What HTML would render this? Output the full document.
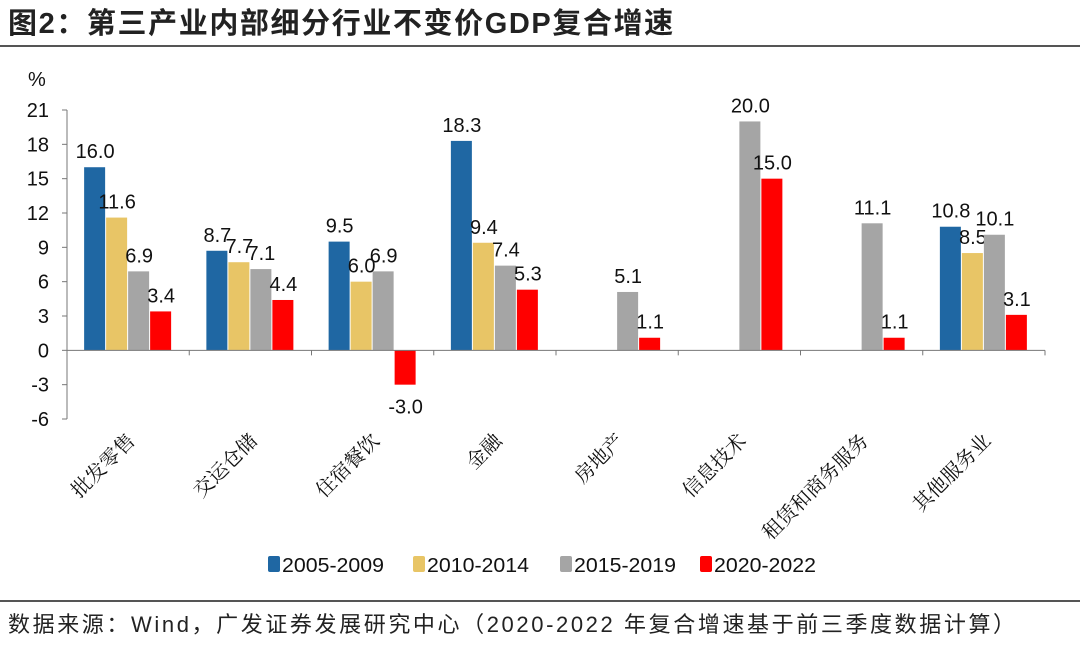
<!DOCTYPE html>
<html><head><meta charset="utf-8"><style>
body{margin:0;background:#fff;width:1080px;height:640px;overflow:hidden;font-family:"Liberation Sans","Noto Sans CJK SC",sans-serif}
</style></head><body>
<svg width="1080" height="640" id="svg" xmlns="http://www.w3.org/2000/svg">
<text x="8" y="33" font-size="29" letter-spacing="1.6" font-weight="bold" fill="#222" font-family="'Liberation Sans','Noto Sans CJK SC',sans-serif">图2：第三产业内部细分行业不变价GDP复合增速</text>
<line x1="0" y1="46" x2="1080" y2="46" stroke="#555" stroke-width="2"/>
<text x="28" y="86" font-size="20" fill="#111">%</text>
<g id="plot"></g>
<line x1="0" y1="601" x2="1080" y2="601" stroke="#555" stroke-width="2"/>
<text x="8" y="632" font-size="22" letter-spacing="2.6" fill="#222" font-family="'Liberation Sans','Noto Sans CJK SC',sans-serif">数据来源：Wind，广发证券发展研究中心（2020-2022 年复合增速基于前三季度数据计算）</text>
</svg>
<script>
const categories=["批发零售","交运仓储","住宿餐饮","金融","房地产","信息技术","租赁和商务服务","其他服务业"];
const seriesNames=["2005-2009","2010-2014","2015-2019","2020-2022"];
const s2005=[16.0,8.7,9.5,18.3,null,null,null,10.8];
const s2010=[11.6,7.7,6.0,9.4,null,null,null,8.5];
const s2015=[6.9,7.1,6.9,7.4,5.1,20.0,11.1,10.1];
const s2020=[3.4,4.4,-3.0,5.3,1.1,15.0,1.1,3.1];
const yTicks=[21,18,15,12,9,6,3,0,-3,-6];
const colors=["#1f67a3","#e8c566","#a5a5a5","#ff0000"];
const series=[s2005,s2010,s2015,s2020];
const NS="http://www.w3.org/2000/svg";
const g=document.getElementById('plot');
const x0=67,x1=1045,yTop=110,yBot=419,vMax=21,vMin=-6;
const y=v=>yTop+(vMax-v)/(vMax-vMin)*(yBot-yTop);
const cw=(x1-x0)/categories.length;
const bw=22;
function mk(t,a){const e=document.createElementNS(NS,t);for(const k in a)e.setAttribute(k,a[k]);g.appendChild(e);return e;}
let ax=mk('line',{x1:x0,y1:y(vMax),x2:x0,y2:y(vMin),stroke:'#777','stroke-width':1});


yTicks.forEach(t=>{
 const tk=mk('line',{x1:x0-5,y1:y(t),x2:x0,y2:y(t),stroke:'#777'});
 
 
 const tl=mk('text',{x:x0-18,y:y(t)+7,'font-size':20,'text-anchor':'end',fill:'#111'});
 tl.textContent=t;
 
 
});
categories.forEach((c,i)=>{
 const cx=x0+cw*(i+0.5);
 series.forEach((s,j)=>{
  const v=s[i]; if(v===null)return;
  const bx=cx-2*bw+j*bw;
  const r=mk('rect',{x:bx,y:Math.min(y(v),y(0)),width:bw-1,height:Math.abs(y(v)-y(0)),fill:colors[j]});
  
  
  const lt=mk('text',{x:bx+bw/2,y:v>=0?y(v)-9:y(v)+29,'font-size':20,'text-anchor':'middle',fill:'#111'});
  lt.textContent=v.toFixed(1);
  
  
 });
 const ct=mk('text',{x:cx+8,y:442,'font-size':20,'text-anchor':'end',fill:'#111','font-family':"'Noto Serif CJK SC',serif",transform:`rotate(-45 ${cx+8} 442)`});
 ct.textContent=c;
 
 
});
for(let i=0;i<=categories.length;i++){
 const tk=mk('line',{x1:x0+cw*i,y1:y(0),x2:x0+cw*i,y2:y(0)+5,stroke:'#777'});
 
 
}
let xa=mk('line',{x1:x0,y1:y(0),x2:x1,y2:y(0),stroke:'#777'});


const lx=[268,413,560,700];
seriesNames.forEach((n,j)=>{
 const r=mk('rect',{x:lx[j],y:556,width:12,height:16,rx:2,fill:colors[j]});
 
 
 const t=mk('text',{x:lx[j]+14,y:572,'font-size':20,fill:'#111',textLength:102,lengthAdjust:'spacingAndGlyphs'});
 t.textContent=n;
 
 
});
</script>
</body></html>
